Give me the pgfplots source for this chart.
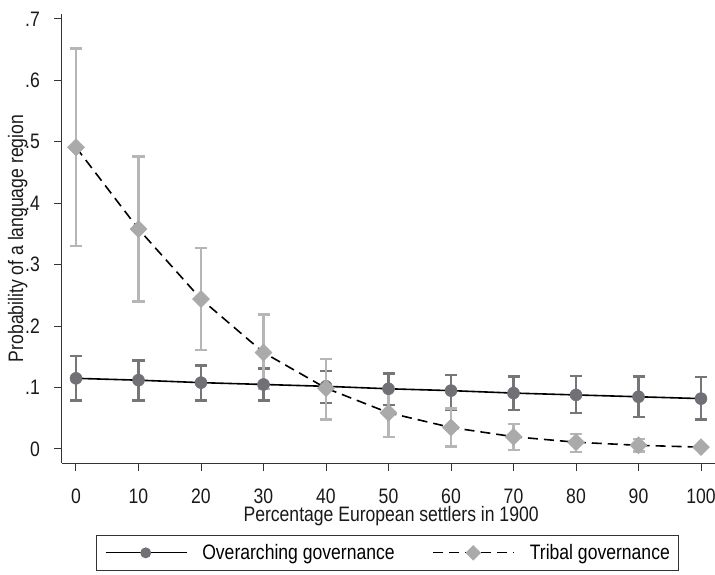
\documentclass[border=0pt]{standalone}
\usepackage{pgfplots}
\pgfplotsset{compat=1.18}
\usepackage{fontspec}
\setmainfont{Liberation Sans}[FakeStretch=0.84]
\definecolor{darkm}{RGB}{112,113,118}
\definecolor{darke}{RGB}{118,118,120}
\definecolor{lightm}{RGB}{170,170,170}
\definecolor{lighte}{RGB}{182,182,182}
\begin{document}
\begin{tikzpicture}
\useasboundingbox (-62bp,-112bp) rectangle (653bp,463bp);
\begin{axis}[
  at={(0,0)}, anchor=south west,
  scale only axis,
  width=653bp, height=449bp,
  xmin=-2.24, xmax=102.24,
  ymin=-0.0228, ymax=0.708,
  axis x line*=bottom, axis y line*=left,
  axis line style={line width=1bp, -, black!80},
  tick align=outside,
  major tick length=8bp,
  tick style={line width=1bp, black!80},
  xtick={0,10,...,100},
  ytick={0,0.1,...,0.7},
  yticklabels={0,.1,.2,.3,.4,.5,.6,.7},
  /pgf/number format/assume math mode=true,
  ticklabel style={font=\fontsize{21}{24}\selectfont, black!90},
  xticklabel style={inner sep=0pt, anchor=north, yshift=-18bp},
  yticklabel style={inner sep=0pt, anchor=east, xshift=-14bp},
  label style={font=\fontsize{21}{24}\selectfont, black!90},
  xlabel={Percentage European settlers in 1900},
  ylabel={Probability of a language region},
  xlabel style={at={(axis description cs:0.504,-0.1310)}, anchor=base, inner sep=0pt},
  ylabel style={at={(axis description cs:-0.0597,0.5)}, anchor=base, rotate=0, inner sep=0pt},
  legend style={at={(axis description cs:0.4985,-0.1604)}, anchor=north, legend columns=2,
    draw=black!80, line width=1bp, font=\fontsize{21}{24}\selectfont,
    inner xsep=9bp, inner ysep=9bp,
    nodes={inner sep=0pt},
    /tikz/every odd column/.append style={column sep=15bp},
    /tikz/every even column/.append style={column sep=38bp}},
  legend image code/.code={
    \draw[#1, line width=1.1bp, mark=none] (0bp,0bp) -- (81bp,0bp);
    \draw[#1, draw opacity=0, mark size=5.5bp] plot coordinates {(40bp,0bp)};
  },
  clip=false,
]
\addplot[black, line width=1.6bp, mark=*, mark size=6bp,
  mark options={solid, fill=darkm, draw=darkm, line width=0.5bp},
  error bars/.cd, y dir=both, y explicit,
  error bar style={darke, line width=2.2bp, solid},
  error mark options={rotate=90, mark size=6bp, darke, line width=2.2bp, solid}]
  table[x=x, y=y, y error plus=ep, y error minus=em] {
x   y      ep     em
0   0.115  0.037  0.036
10  0.112  0.032  0.033
20  0.108  0.028  0.029
30  0.105  0.026  0.026
40  0.102  0.025  0.027
50  0.098  0.025  0.026
60  0.095  0.025  0.031
70  0.091  0.027  0.028
80  0.088  0.031  0.030
90  0.085  0.033  0.033
100 0.082  0.035  0.034
};
\addlegendentry{Overarching governance}
\addplot[black, line width=1.6bp, dash pattern=on 10bp off 6bp, mark=square*, mark size=6bp,
  mark options={solid, rotate=45, fill=lightm, draw=lightm, line width=0.5bp},
  error bars/.cd, y dir=both, y explicit,
  error bar style={lighte, line width=2.2bp, solid},
  error mark options={rotate=90, mark size=6bp, lighte, line width=2.2bp, solid}]
  table[x=x, y=y, y error plus=ep, y error minus=em] {
x   y      ep     em
0   0.491  0.161  0.161
10  0.358  0.118  0.118
20  0.244  0.083  0.083
30  0.157  0.062  0.060
40  0.099  0.048  0.051
50  0.059  0.039  0.040
60  0.035  0.031  0.031
70  0.020  0.021  0.022
80  0.011  0.013  0.016
90  0.006  0.010  0.010
100 0.003  0.003  0.003
};
\addlegendentry{Tribal governance}
\end{axis}
\end{tikzpicture}
\end{document}
